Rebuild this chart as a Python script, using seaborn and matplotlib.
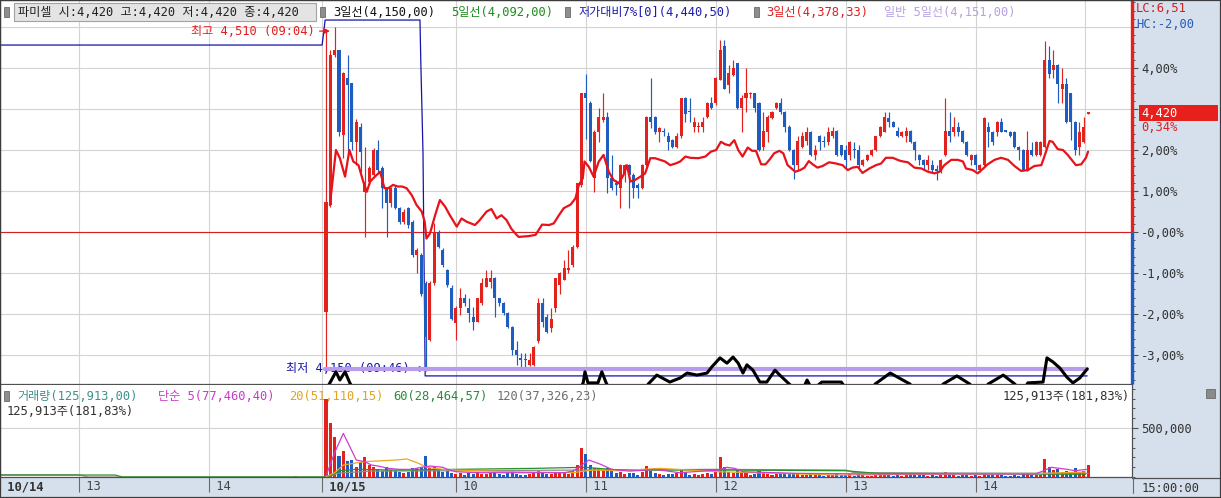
import matplotlib
matplotlib.use("Agg")
import numpy as np
import pandas as pd
import matplotlib.pyplot as plt
import matplotlib.transforms as mtransforms
from matplotlib.patches import Rectangle
from matplotlib.lines import Line2D
from matplotlib.ticker import MultipleLocator
import seaborn as sns

# ---------------- data (2-minute candles of 10/15, in % on the chart's axis) ----------------
candle_open = [
    -1.94, 0.66, 4.32, 4.44, 2.37, 3.75, 3.63, 2.20, 2.57, 0.98,
    1.23, 1.39, 2.00, 1.55, 1.07, 0.70, 1.07, 0.58, 0.25, 0.58,
    0.25, -0.56, -0.56, -1.25, -2.63, -1.25, 0.00, -0.44, -0.93, -1.37,
    -2.23, -1.86, -1.62, -1.86, -2.07, -2.19, -1.74, -1.33, -1.21, -1.13,
    -1.62, -1.74, -1.98, -2.31, -2.88, -3.08, -3.10, -3.24, -3.24, -2.67,
    -1.74, -2.07, -2.35, -1.86, -1.29, -1.17, -0.93, -0.81, -0.36, 1.15,
    3.38, 3.14, 1.31, 2.45, 2.73, 2.81, 1.31, 1.19, 1.07, 1.43,
    1.63, 1.39, 1.15, 1.07, 1.63, 2.81, 2.81, 2.45, 2.46, 2.33,
    2.24, 2.08, 2.33, 3.26, 2.93, 2.57, 2.55, 2.57, 2.81, 3.14,
    3.14, 3.71, 4.54, 3.59, 3.83, 4.11, 3.03, 3.26, 3.37, 3.38,
    3.14, 2.08, 2.45, 2.79, 3.02, 3.14, 2.92, 2.57, 2.00, 1.63,
    2.08, 2.22, 2.45, 1.88, 2.33, 2.22, 2.20, 2.33, 2.46, 2.11,
    2.00, 1.88, 2.02, 2.00, 1.63, 1.76, 1.88, 2.00, 2.33, 2.45,
    2.79, 2.69, 2.46, 2.33, 2.33, 2.46, 2.20, 1.88, 1.76, 1.63,
    1.63, 1.52, 1.47, 1.88, 2.46, 2.45, 2.57, 2.46, 2.20, 1.76,
    1.88, 1.51, 1.63, 2.57, 2.45, 2.45, 2.69, 2.46, 2.45, 2.45,
    2.08, 2.00, 1.51, 2.00, 1.88, 1.88, 2.08, 4.20, 3.95, 4.07,
    3.50, 3.60, 3.38, 2.69, 2.08, 2.20, 2.89]
candle_high = [
    4.95, 4.44, 5.01, 4.44, 3.90, 4.32, 3.63, 2.75, 2.65, 2.08,
    1.60, 2.05, 2.24, 1.60, 1.10, 1.10, 1.15, 0.62, 0.55, 0.62,
    0.30, -0.40, -0.50, -1.20, -1.20, 0.21, 0.05, -0.40, -0.90, -1.30,
    -1.80, -1.37, -1.50, -1.62, -1.82, -1.60, -1.13, -0.93, -0.93, -1.10,
    -1.60, -1.70, -1.95, -2.30, -2.67, -2.96, -2.96, -2.96, -2.78, -1.62,
    -1.62, -2.00, -1.86, -1.13, -0.97, -0.68, -0.44, -0.32, 1.20, 3.40,
    3.85, 3.20, 2.50, 3.02, 3.38, 2.92, 1.88, 1.27, 1.65, 1.65,
    1.65, 1.43, 1.19, 1.65, 2.83, 3.75, 2.83, 2.57, 2.53, 2.45,
    2.28, 2.41, 3.28, 3.30, 3.26, 2.81, 2.69, 2.81, 3.16, 3.30,
    3.77, 4.68, 4.68, 4.07, 4.20, 4.12, 3.34, 3.99, 3.42, 3.40,
    3.16, 2.93, 2.85, 2.95, 3.16, 3.28, 2.94, 2.60, 2.02, 2.33,
    2.45, 2.57, 2.47, 2.12, 2.37, 2.33, 2.57, 2.57, 2.48, 2.13,
    2.11, 2.22, 2.20, 2.12, 1.78, 1.90, 2.02, 2.35, 2.59, 2.92,
    2.92, 2.71, 2.57, 2.47, 2.57, 2.48, 2.22, 1.90, 1.78, 1.88,
    1.76, 1.63, 1.78, 3.28, 2.92, 2.81, 2.69, 2.48, 2.22, 1.90,
    1.90, 1.65, 2.81, 2.69, 2.47, 2.71, 2.79, 2.48, 2.47, 2.47,
    2.10, 2.02, 2.46, 2.20, 2.22, 2.22, 4.66, 4.54, 4.44, 4.09,
    3.99, 3.75, 3.40, 2.71, 2.69, 2.81, 2.91]
candle_low = [
    -3.38, 0.62, 4.28, 2.33, 1.80, 1.96, 2.00, 1.63, 1.47, -0.12,
    1.15, 1.35, 1.47, 0.58, -0.12, 0.60, 0.55, 0.20, 0.20, 0.10,
    -0.60, -1.01, -1.55, -3.40, -2.67, -1.30, -0.40, -0.85, -1.33, -2.15,
    -2.63, -2.02, -1.80, -2.19, -2.39, -2.20, -1.78, -1.35, -1.37, -2.07,
    -1.80, -2.02, -2.35, -3.00, -3.24, -3.33, -3.33, -3.26, -3.26, -2.70,
    -2.31, -2.47, -2.43, -1.94, -1.50, -1.17, -1.01, -0.85, -0.40, 1.10,
    2.28, 1.70, 0.98, 2.20, 2.69, 0.94, 1.02, 0.90, 0.58, 1.23,
    0.58, 0.82, 0.82, 1.05, 1.60, 2.53, 2.40, 2.20, 2.33, 2.00,
    2.05, 2.05, 2.30, 2.69, 2.69, 2.45, 2.45, 2.45, 2.79, 3.00,
    3.10, 3.70, 3.48, 3.38, 3.80, 3.00, 2.45, 2.93, 3.26, 2.93,
    1.98, 2.00, 2.20, 2.75, 3.00, 2.89, 2.45, 1.98, 1.29, 1.51,
    2.05, 2.12, 1.86, 1.76, 2.00, 2.08, 2.12, 2.30, 1.86, 1.85,
    1.55, 1.76, 1.80, 1.55, 1.60, 1.74, 1.86, 1.98, 2.31, 2.43,
    2.57, 2.55, 2.31, 2.31, 2.20, 2.18, 1.76, 1.63, 1.51, 1.51,
    1.47, 1.27, 1.45, 1.86, 2.20, 2.33, 2.33, 2.18, 1.86, 1.63,
    1.51, 1.47, 1.60, 2.08, 2.12, 2.33, 2.43, 2.43, 2.31, 2.06,
    1.76, 1.49, 1.49, 1.86, 1.86, 1.86, 2.06, 3.75, 3.75, 3.14,
    3.14, 2.67, 2.24, 1.88, 1.88, 2.18, 2.88]
candle_close = [
    0.74, 4.32, 4.44, 2.45, 3.87, 3.59, 2.20, 2.69, 1.96, 1.23,
    1.55, 2.00, 1.51, 1.07, 0.70, 1.07, 0.58, 0.25, 0.50, 0.17,
    -0.56, -0.44, -1.50, -2.55, -1.25, 0.00, -0.36, -0.81, -1.29, -2.11,
    -1.86, -1.62, -1.74, -1.98, -2.19, -1.62, -1.25, -1.13, -1.13, -1.62,
    -1.74, -1.98, -2.31, -2.88, -3.00, -3.12, -3.13, -3.12, -2.80, -1.74,
    -2.19, -2.43, -2.11, -1.13, -1.01, -0.89, -0.89, -0.36, 1.19, 3.38,
    3.26, 1.72, 2.45, 2.81, 2.81, 1.31, 1.07, 1.15, 1.63, 1.63,
    1.39, 1.07, 1.07, 1.63, 2.81, 2.69, 2.45, 2.53, 2.43, 2.20,
    2.08, 2.33, 3.26, 2.89, 2.92, 2.69, 2.58, 2.69, 3.14, 3.02,
    3.75, 4.44, 3.50, 3.87, 3.99, 3.03, 3.26, 3.38, 3.39, 3.03,
    2.00, 2.46, 2.81, 2.92, 3.14, 2.92, 2.57, 2.00, 1.63, 2.22,
    2.33, 2.45, 1.88, 2.00, 2.20, 2.20, 2.45, 2.46, 1.88, 1.88,
    1.76, 2.20, 2.00, 1.63, 1.76, 1.88, 2.00, 2.33, 2.57, 2.81,
    2.69, 2.57, 2.33, 2.45, 2.46, 2.20, 2.00, 1.76, 1.63, 1.76,
    1.51, 1.50, 1.76, 2.46, 2.33, 2.57, 2.45, 2.20, 1.88, 1.88,
    1.63, 1.63, 2.79, 2.45, 2.20, 2.69, 2.45, 2.45, 2.33, 2.08,
    2.00, 1.51, 2.00, 1.88, 2.20, 2.20, 4.20, 3.85, 4.07, 3.60,
    3.60, 2.69, 2.69, 2.00, 2.45, 2.57, 2.89]
volume = [
    793000, 554000, 405000, 214000, 268000, 166000, 173000, 99000, 156000, 201000,
    122000, 105000, 78000, 64000, 99000, 71000, 64000, 54000, 37000, 54000,
    88000, 88000, 99000, 214000, 88000, 99000, 78000, 54000, 64000, 37000,
    30000, 40000, 25000, 45000, 30000, 50000, 35000, 28000, 40000, 55000,
    30000, 25000, 45000, 60000, 35000, 25000, 20000, 30000, 45000, 65000,
    40000, 30000, 35000, 55000, 45000, 40000, 35000, 60000, 122000, 292000,
    235000, 122000, 90000, 88000, 70000, 95000, 60000, 40000, 55000, 35000,
    45000, 40000, 25000, 50000, 112000, 60000, 45000, 30000, 20000, 35000,
    30000, 40000, 80000, 55000, 25000, 30000, 20000, 30000, 45000, 35000,
    70000, 204000, 99000, 50000, 40000, 75000, 40000, 45000, 20000, 35000,
    60000, 40000, 35000, 25000, 30000, 30000, 35000, 40000, 45000, 35000,
    25000, 20000, 40000, 20000, 20000, 15000, 25000, 20000, 40000, 25000,
    25000, 30000, 15000, 30000, 20000, 15000, 15000, 25000, 30000, 35000,
    20000, 15000, 20000, 15000, 25000, 20000, 25000, 20000, 20000, 15000,
    20000, 15000, 20000, 50000, 25000, 20000, 15000, 20000, 25000, 15000,
    20000, 15000, 45000, 20000, 20000, 25000, 20000, 10000, 15000, 20000,
    15000, 30000, 35000, 20000, 25000, 25000, 184000, 99000, 70000, 78000,
    50000, 65000, 40000, 88000, 50000, 60000, 125913]
prev_day_vol_idx = [-7]
prev_day_vol = [8000]

# red moving-average line (3일선), read point by point
ma_red_idx = [
    0.9, 2.3, 3.2, 4.4, 5.4, 6.3, 7.5, 8.6, 9.4, 10.2, 11.3, 12.5, 13.5, 14.4, 15.5, 16.5, 17.5, 18.6, 19.8, 20.9,
    22.1, 22.8, 23.2, 24.0, 25.2, 26.3, 27.5, 28.6, 30.2, 31.3, 32.5, 34.4, 35.5, 37.1, 38.2, 39.4, 40.5, 41.7, 42.8, 44.0,
    44.5, 46.8, 48.4, 49.9, 51.5, 52.6, 53.8, 54.9, 56.5, 57.6, 58.4, 59.3, 59.7, 60.7, 61.8, 63.0, 64.1, 65.3, 66.4, 67.6,
    68.7, 69.5, 70.3, 71.4, 72.6, 73.7, 74.9, 76.0, 78.3, 79.5, 80.7, 81.8, 83.0, 84.1, 86.0, 87.6,
    88.9, 90.1, 91.2, 92.2, 93.2, 94.3, 95.2, 96.2, 97.4, 98.4, 99.3, 100.5, 101.5, 102.4, 103.5, 104.7, 105.6, 106.6, 108.4,
    109.5, 110.5, 111.5, 112.4, 113.5, 114.7, 116.2, 117.8, 119.3, 120.5, 121.6, 122.8, 123.9, 125.5, 127.0, 128.2, 129.3,
    130.9, 132.0,
    132.8, 134.4, 135.9, 137.5, 139.0, 140.5, 141.7, 142.8, 144.4, 145.9, 147.1, 147.8, 149.4, 150.5, 151.7, 152.8, 154.4,
    155.9, 157.5, 159.0, 160.5, 162.1, 163.6, 165.2, 165.9, 167.1, 167.8, 169.0, 170.2, 171.3, 172.5, 173.2, 174.4, 175.5, 176.0]
ma_red_pct = [
    0.66, 2.00, 1.80, 1.35, 2.00, 1.72, 1.63, 1.23, 0.98, 1.23, 1.35, 1.47, 1.07, 1.07, 1.15, 1.11, 1.11, 1.07, 0.90, 0.66,
    0.50, 0.25, -0.16, -0.04, 0.41, 0.78, 0.62, 0.41, 0.13, 0.33, 0.25, 0.17, 0.29, 0.50, 0.56, 0.33, 0.41, 0.29, 0.08, -0.07,
    -0.12, -0.10, -0.07, 0.18, 0.17, 0.21, 0.41, 0.58, 0.67, 0.82, 1.15, 1.31, 1.72, 1.59, 1.35, 1.72, 1.88, 1.47, 1.27, 1.19,
    1.39, 1.63, 1.23, 1.27, 1.35, 1.43, 1.80, 1.80, 1.72, 1.63, 1.67, 1.72, 1.84, 1.81, 1.80, 1.84,
    1.96, 2.00, 2.20, 2.14, 2.11, 2.24, 2.00, 1.84, 2.06, 1.98, 1.98, 1.65, 1.65, 1.76, 1.92, 1.98, 1.92, 1.63, 1.47,
    1.51, 1.57, 1.73, 1.65, 1.57, 1.61, 1.70, 1.67, 1.63, 1.51, 1.57, 1.59, 1.44, 1.55, 1.63, 1.67, 1.81,
    1.81, 1.76,
    1.73, 1.70, 1.57, 1.55, 1.47, 1.43, 1.47, 1.63, 1.76, 1.76, 1.72, 1.55, 1.51, 1.43, 1.54, 1.65, 1.76,
    1.81, 1.76, 1.61, 1.49, 1.51, 1.61, 1.63, 1.84, 2.22, 2.20, 2.02, 2.00, 1.88, 1.72, 1.63, 1.65, 1.81, 1.96]

# navy step line (저가대비7%)
navy_idx = [-75.3, -0.9, -0.2, 21.7, 21.9, 22.4, 22.9, 175.8]
navy_pct = [4.56, 4.56, 5.17, 5.17, 4.12, 1.93, -3.51, -3.51]
# lavender line (일반 5일선)
lav_idx = [-0.2, 175.8]
lav_pct = [-3.35, -3.35]
# black line (3일선) – mostly below the visible range
black_idx = [-0.5, 0.9, 2.3, 3.2, 4.4, 5.5, 7.0, 58.0, 59.4, 59.8, 60.5, 62.8, 63.7, 64.7, 66.0, 73.5, 74.4, 76.4,
             79.4, 81.8, 83.4, 85.7, 88.0, 89.1, 91.0, 92.6, 94.0, 95.2, 96.3, 97.2, 98.6, 100.2, 101.8, 103.7, 104.8,
             107.2, 109.0, 110.5, 111.1, 111.8, 113.5, 114.5, 119.0, 119.6, 126.0, 126.8, 130.3, 134.9, 136.0, 141.8,
             142.5, 145.7, 148.7, 150.0, 152.2, 152.9, 156.4, 159.1, 160.5, 162.1, 165.6, 166.5, 167.9, 169.5, 171.1,
             172.5, 174.1, 175.8]
black_pct = [-3.95, -3.68, -3.41, -3.61, -3.41, -3.68, -3.95, -3.95, -3.68, -3.41, -3.68, -3.68, -3.41, -3.68, -3.95,
             -3.95, -3.71, -3.49, -3.66, -3.56, -3.44, -3.49, -3.44, -3.29, -3.07, -3.20, -3.05, -3.20, -3.44, -3.24,
             -3.37, -3.66, -3.66, -3.37, -3.49, -3.73, -3.95, -3.75, -3.61, -3.75, -3.75, -3.66, -3.66, -3.75, -3.95,
             -3.71, -3.44, -3.71, -3.95, -3.95, -3.71, -3.51, -3.71, -3.95, -3.95, -3.71, -3.49, -3.71, -3.95, -3.68,
             -3.66, -3.07, -3.17, -3.32, -3.54, -3.68, -3.56, -3.34]

# volume moving averages
vma5_idx = [0, 2, 4, 5.5, 7, 9, 10.5, 12, 14.5, 17, 20, 21.5, 24, 27, 28, 30, 35, 45, 55, 57, 58, 60.7, 63.4, 66, 70,
            74.2, 76, 81.6, 90.7, 92.5, 94.4, 96.2, 109, 127.3, 145.6, 163.9, 165.7, 167.5, 169.4, 171.2, 173, 175.6]
vma5_val = [10000, 250000, 445000, 309000, 173000, 156000, 122000, 112000, 88000, 78000, 78000, 95000, 112000, 99000,
            78000, 54000, 44000, 44000, 44000, 60000, 88000, 173000, 130000, 78000, 60000, 71000, 78000, 44000, 71000,
            99000, 88000, 54000, 37000, 31000, 31000, 31000, 64000, 99000, 88000, 78000, 64000, 78000]
vma20_idx = [0, 2, 4, 8.7, 16, 18.7, 21.4, 23.3, 26.9, 34, 43, 57, 61.6, 67.8, 77, 90.7, 118, 165.7, 175.4]
vma20_val = [3000, 44000, 122000, 156000, 173000, 184000, 139000, 99000, 78000, 64000, 54000, 44000, 71000, 64000,
             88000, 54000, 20000, 37000, 51000]
vma60_idx = [-75.3, -48.7, -47, 0, 0.5, 3.2, 6.8, 16, 29.7, 48, 59.8, 67.8, 90.7, 120, 127.3, 154.7, 175.4]
vma60_val = [20000, 20000, 0, 0, 3000, 64000, 78000, 71000, 78000, 88000, 99000, 71000, 71000, 64000, 37000, 31000,
             28000]
vma120_idx = [-75.3, -57, -55, 0, 0.5, 3, 10, 30, 60, 90, 120, 122, 176]
vma120_val = [22000, 22000, 0, 0, 3000, 40000, 60000, 64000, 71000, 78000, 71000, 44000, 37000]

# x axis
time_tick_idx = [-75.29, -57, -27, -1, 30, 60, 90, 120, 150]
time_tick_labels = ["10/14", "13", "14", "10/15", "10", "11", "12", "13", "14"]
now_line_idx = 175.3
price_ticks = [-3, -2, -1, 0, 1, 2, 3, 4, 5]
# the 3,00% label sits under the last-price box in the reference, so it is left blank
price_tick_labels = ["-3,00%", "-2,00%", "-1,00%", "-0,00%", "1,00%", "2,00%", "", "4,00%", ""]

# ---------------- style ----------------
sns.set_theme(style="white")
plt.rcParams["font.family"] = ["DejaVu Sans Mono", "Noto Sans CJK KR"]
plt.rcParams["axes.unicode_minus"] = False
FS = 8.7
RED = "#e3211d"
BLUE = "#1f5cc0"
MARED = "#e8121a"
GRID = "#d3d3d3"
PANEL = "#d5e0ec"
NAVY = "#1414a8"

W, H = 1221, 498
SLOT = 4.33
X0 = 326

fig = plt.figure(figsize=(W / 100, H / 100), dpi=100, facecolor="white")
ax = fig.add_axes([0, 1 - 384 / H, 1132 / W, 384 / H])
axv = fig.add_axes([0, 1 - 477 / H, 1132 / W, 92 / H])
xmin, xmax = -X0 / SLOT, (1132 - X0) / SLOT
for a in (ax, axv):
    a.set_xlim(xmin, xmax)
    a.set_facecolor("white")
ytop, ybot = 232 / 41, -152 / 41
ax.set_ylim(ybot, ytop)
axv.set_ylim(0, 92 * 10204)

# background panels
fig.add_artist(Rectangle((1132 / W, 0), 1 - 1132 / W, 1, transform=fig.transFigure,
                         facecolor=PANEL, edgecolor="none", zorder=-1))
fig.add_artist(Rectangle((0, 0), 1, 21 / H, transform=fig.transFigure,
                         facecolor=PANEL, edgecolor="none", zorder=-1))

df = pd.DataFrame({"open": candle_open, "high": candle_high, "low": candle_low,
                   "close": candle_close, "volume": volume})
df["idx"] = np.arange(len(df))
up = df["close"] >= df["open"]
cols = np.where(up, RED, BLUE)

# price panel
ax.axhline(0, color="#d42020", lw=0.8, zorder=2)
ax.plot(navy_idx, navy_pct, color=NAVY, lw=0.9, zorder=2.5)
ax.vlines(df["idx"], df["low"], df["high"], colors=cols, linewidth=0.85, zorder=3)
body = (df["close"] - df["open"]).abs().clip(lower=0.03)
ax.bar(df["idx"], body, bottom=np.minimum(df["open"], df["close"]), width=0.7,
       color=cols, linewidth=0, zorder=3)
sns.lineplot(x=lav_idx, y=lav_pct, ax=ax, color="#b89cec", linewidth=3.0, sort=False,
             estimator=None, zorder=4)
sns.lineplot(x=black_idx, y=black_pct, ax=ax, color="black", linewidth=2.2, sort=False,
             estimator=None, zorder=4.5)
sns.lineplot(x=ma_red_idx, y=ma_red_pct, ax=ax, color=MARED, linewidth=1.6, sort=False,
             estimator=None, zorder=5)
ax.set_ylim(ybot, ytop)
ax.set_xlim(xmin, xmax)

ax.yaxis.tick_right()
ax.set_yticks(price_ticks)
ax.set_yticklabels(price_tick_labels)
ax.yaxis.set_minor_locator(MultipleLocator(0.2))
ax.tick_params(axis="y", which="major", direction="out", length=4.5, width=0.8, color="#505050",
               pad=2, labelsize=FS, labelcolor="#333333", right=True, left=False)
ax.tick_params(axis="y", which="minor", direction="out", length=2, width=0.7, color="#505050",
               right=True, left=False)
ax.set_xticks(time_tick_idx)
ax.set_xticks([now_line_idx], minor=True)
ax.tick_params(axis="x", which="both", length=0, labelbottom=False)
ax.grid(True, which="major", color=GRID, linewidth=0.8)
ax.grid(True, which="minor", axis="x", color=GRID, linewidth=0.8)
ax.set_xlabel("")
ax.set_ylabel("")
for s in ("top", "left"):
    ax.spines[s].set_color("#404040")
ax.spines["bottom"].set_color("#505050")
ax.spines["right"].set_visible(False)
for s in ax.spines.values():
    s.set_linewidth(0.9)

trans = mtransforms.blended_transform_factory(ax.transAxes, ax.transData)
ax.plot([1, 1], [0, ytop], transform=trans, color=RED, lw=2.4, clip_on=False,
        solid_capstyle="butt", zorder=6)
ax.plot([1, 1], [ybot, 0], transform=trans, color=BLUE, lw=2.4, clip_on=False,
        solid_capstyle="butt", zorder=6)

# annotations of day high / low
hi_i = int(df["high"].idxmax())
lo_i = int(df["low"].idxmin())
ax.annotate("최고 4,510 (09:04)", xy=(hi_i - 1.1, df["high"][hi_i] - 0.11), xytext=(-15, 0),
            textcoords="offset pixels", ha="right", va="center", color="#e02020", fontsize=FS,
            arrowprops=dict(arrowstyle="-|>", color="#e02020", lw=0.9, shrinkA=1, shrinkB=0,
                            mutation_scale=8), annotation_clip=False, zorder=7)
ax.annotate("최저 4,150 (09:46)", xy=(lo_i - 0.1, df["low"][lo_i] + 0.06), xytext=(-15, 0),
            textcoords="offset pixels", ha="right", va="center", color=NAVY, fontsize=FS,
            arrowprops=dict(arrowstyle="-|>", color="#1a1ae0", lw=0.9, shrinkA=1, shrinkB=0,
                            mutation_scale=8), annotation_clip=False, zorder=3.5)

# volume panel
axv.bar(df["idx"], df["volume"], width=0.7, color=cols, linewidth=0, zorder=3)
axv.bar(prev_day_vol_idx, prev_day_vol, width=0.7, color=RED, linewidth=0, zorder=3)
sns.lineplot(x=vma120_idx, y=vma120_val, ax=axv, color="#8c8c8c", linewidth=0.9, sort=False,
             estimator=None, zorder=4)
sns.lineplot(x=vma60_idx, y=vma60_val, ax=axv, color="#2a8f2a", linewidth=0.9, sort=False,
             estimator=None, zorder=4)
sns.lineplot(x=vma20_idx, y=vma20_val, ax=axv, color="#eda81e", linewidth=0.9, sort=False,
             estimator=None, zorder=4)
sns.lineplot(x=vma5_idx, y=vma5_val, ax=axv, color="#cf3ccf", linewidth=0.9, sort=False,
             estimator=None, zorder=4)
axv.set_ylim(0, 92 * 10204)
axv.set_xlim(xmin, xmax)
axv.set_xlabel("")
axv.set_ylabel("")
axv.yaxis.tick_right()
axv.set_yticks([500000])
axv.set_yticklabels(["500,000"])
axv.yaxis.set_minor_locator(MultipleLocator(100000))
axv.tick_params(axis="y", which="major", direction="out", length=4.5, width=0.8, color="#505050",
                pad=2, labelsize=FS, labelcolor="#333333", right=True, left=False)
axv.tick_params(axis="y", which="minor", direction="out", length=2, width=0.7, color="#505050",
                right=True, left=False)
axv.set_xticks(time_tick_idx)
axv.set_xticklabels([" " + t for t in time_tick_labels])
axv.set_xticks([now_line_idx], minor=True)
axv.tick_params(axis="x", which="major", direction="out", length=10.5, width=0.8, color="#6a6a6a",
                pad=-8.0, labelsize=FS, labelcolor="#444444", bottom=True)
axv.tick_params(axis="x", which="minor", length=0)
for lab in axv.get_xticklabels():
    lab.set_ha("left")
    if "/" in lab.get_text():
        lab.set_fontweight("bold")
        lab.set_color("#333333")
axv.grid(True, which="major", color=GRID, linewidth=0.8)
axv.grid(True, which="minor", axis="x", color=GRID, linewidth=0.8)
axv.spines["top"].set_visible(False)
for s in ("left", "bottom", "right"):
    axv.spines[s].set_color("#505050")
    axv.spines[s].set_linewidth(0.9)

def vtext(xp, yp, s, color, ha="left"):
    axv.text(xp / 1132, (477 - yp) / 92, s, transform=axv.transAxes, ha=ha, va="center",
             color=color, fontsize=FS, zorder=1)

vtext(17, 396, "거래량(125,913,00)", "#3f8f8f")
vtext(158, 396, "단순 5(77,460,40)", "#c83cc8")
vtext(289, 396, "20(51,110,15)", "#e3a21c")
vtext(393, 396, "60(28,464,57)", "#2a8a3a")
vtext(497, 396, "120(37,326,23)", "#6e6e6e")
vtext(7, 411, "125,913주(181,83%)", "#303030")
vtext(1130, 396, "125,913주(181,83%)", "#303030", ha="right")

# figure-level texts
def ftext(xp, yp, s, color, **kw):
    fig.text(xp / W, 1 - yp / H, s, color=color, fontsize=FS, va="center", ha="left", **kw)

def marker(xp, yp):
    fig.add_artist(Rectangle((xp / W, 1 - (yp + 5) / H), 5 / W, 10 / H, transform=fig.transFigure,
                             facecolor="#8e8e8e", edgecolor="#6a6a6a", lw=0.6, zorder=3))

fig.add_artist(Rectangle((14 / W, 1 - 21 / H), 302 / W, 18 / H, transform=fig.transFigure,
                         facecolor="#e4e4e4", edgecolor="#a2a2a2", lw=0.8, zorder=3))
marker(4, 12)
ftext(18, 12, "파미셀 시:4,420 고:4,420 저:4,420 종:4,420", "#222222")
marker(320, 12)
ftext(333, 12, "3일선(4,150,00)", "#111111")
ftext(451, 12, "5일선(4,092,00)", "#1e8c1e")
marker(565, 12)
ftext(578, 12, "저가대비7%[0](4,440,50)", "#1c1cb0")
marker(754, 12)
ftext(766, 12, "3일선(4,378,33)", "#e02020")
ftext(884, 12, "일반 5일선(4,151,00)", "#b8a0e2")
marker(4, 396)

ftext(1136, 9, "LC:6,51", "#d02020")
ftext(1136, 25, "HC:-2,00", "#2a5ab8")
ftext(1142, 488, "15:00:00", "#333333")

# last price box on the right axis
last = df["close"].iloc[-1]
y_last = H - ax.transData.transform((0, last))[1]
fig.add_artist(Rectangle((1139 / W, 1 - (y_last + 7) / H), 79 / W, 16 / H, transform=fig.transFigure,
                         facecolor="#e8201c", edgecolor="none", zorder=5))
ftext(1141, y_last, "4,420", "white", zorder=6)
ftext(1141, y_last + 14, "0,34%", "#e02020", zorder=6)

# separators and frame
fig.add_artist(Line2D([1132 / W, 1], [1 - 477.5 / H] * 2, transform=fig.transFigure,
                      color="#505050", lw=0.9, zorder=4))
fig.add_artist(Line2D([1133 / W] * 2, [1 - 477 / H, 1 - 493 / H], transform=fig.transFigure,
                      color="#6a6a6a", lw=0.8, zorder=4))
fig.add_artist(Rectangle((1206 / W, 1 - 398 / H), 9 / W, 9 / H, transform=fig.transFigure,
                         facecolor="#8a8a8a", edgecolor="#6a6a6a", lw=0.6, zorder=4))
fig.add_artist(Rectangle((0, 0), 1, 1, transform=fig.transFigure, fill=False,
                         edgecolor="#3c3c3c", lw=1.6, zorder=10))

fig.savefig("out.png", dpi=100, facecolor="white")
